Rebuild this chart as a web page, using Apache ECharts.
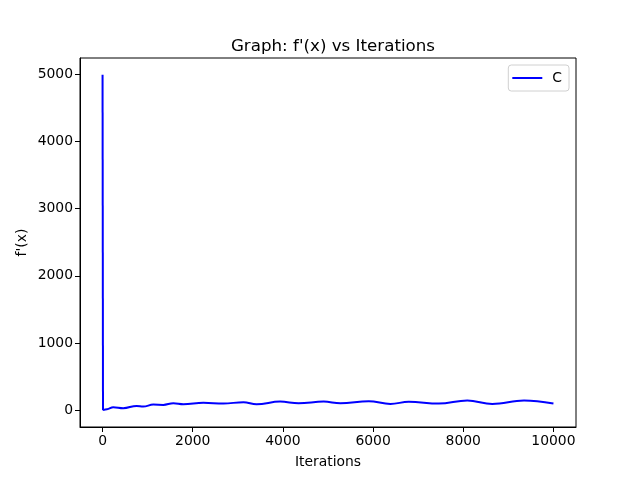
<!DOCTYPE html>
<html><head><meta charset="utf-8">
<script src="https://cdn.jsdelivr.net/npm/echarts@6/dist/echarts.min.js"></script>
<style>html,body{margin:0;padding:0;background:#fff}#c{width:640px;height:480px}</style>
</head><body><div id="c"></div>
<script>
const seriesName = 'C';
const spikeIter = [0, 10];
const spikeVals = [4990, 0];
const waveIter = [10, 100, 236, 458, 755, 902, 1125, 1347, 1570, 1792, 2236, 2680, 3125, 3415, 3938, 4348, 4904, 5274, 5904, 6384, 6791, 7458, 8089, 8644, 9347, 10000];
const waveVals = [0, 15, 45, 30, 64, 54, 83, 79, 104, 89, 109, 99, 119, 89, 128, 104, 128, 104, 134, 94, 124, 98, 143, 94, 143, 98];
const xTicks = [0, 2000, 4000, 6000, 8000, 10000];
const yTicks = [0, 1000, 2000, 3000, 4000, 5000];

const font = 'DejaVu Sans';
const chart = echarts.init(document.getElementById('c'), null, {renderer: 'canvas'});
const zip = (a, b) => a.map((v, i) => [v, b[i]]);
const plain = v => String(v);
chart.setOption({
  animation: false,
  backgroundColor: '#fff',
  title: {text: "Graph: f'(x) vs Iterations", left: 328, top: 33, textAlign: 'center',
    textStyle: {fontFamily: font, fontSize: 16.7, fontWeight: 'normal', color: '#000'}},
  legend: {data: [seriesName], right: 71, top: 65, orient: 'vertical',
    icon: 'path://M0,0 L30,0 L30,2 L0,2 Z', itemWidth: 30, itemHeight: 2, itemGap: 6,
    borderColor: '#d0d0d0', borderWidth: 1, borderRadius: 3, padding: [6, 7, 6, 4],
    textStyle: {fontFamily: font, fontSize: 13.9, color: '#000', padding: [0, 0, 0, 5]}},
  grid: {left: 80, right: 64, top: 58, bottom: 53, show: true, borderColor: '#000', borderWidth: 1, containLabel: false},
  xAxis: {type: 'value', min: -500, max: 10500,
    name: 'Iterations', nameLocation: 'middle', nameGap: 28, nameMoveOverlap: false,
    nameTextStyle: {fontFamily: font, fontSize: 13.9, color: '#000'},
    axisLine: {show: true, onZero: false, lineStyle: {color: '#000', width: 1}},
    axisTick: {show: true, inside: false, length: 5, customValues: xTicks, lineStyle: {color: '#000'}},
    axisLabel: {customValues: xTicks, formatter: plain, fontFamily: font, fontSize: 13.9, color: '#000', margin: 7},
    splitLine: {show: false}},
  yAxis: {type: 'value', min: -250, max: 5240,
    name: "f'(x)", nameLocation: 'middle', nameGap: 51, nameRotate: 90, nameMoveOverlap: false,
    nameTextStyle: {fontFamily: font, fontSize: 13.9, color: '#000'},
    axisLine: {show: true, onZero: false, lineStyle: {color: '#000', width: 1}},
    axisTick: {show: true, inside: false, length: 5, customValues: yTicks, lineStyle: {color: '#000'}},
    axisLabel: {customValues: yTicks, formatter: plain, fontFamily: font, fontSize: 13.9, color: '#000', margin: 7},
    splitLine: {show: false}},
  series: [
    {name: seriesName, type: 'line', data: zip(spikeIter, spikeVals), showSymbol: false, symbol: 'none',
      lineStyle: {color: '#0000ff', width: 2}, itemStyle: {color: '#0000ff'}},
    {name: seriesName, type: 'line', data: zip(waveIter, waveVals), showSymbol: false, symbol: 'none',
      smooth: 0.4, smoothMonotone: 'x',
      lineStyle: {color: '#0000ff', width: 2}, itemStyle: {color: '#0000ff'}}
  ]
});
</script></body></html>
